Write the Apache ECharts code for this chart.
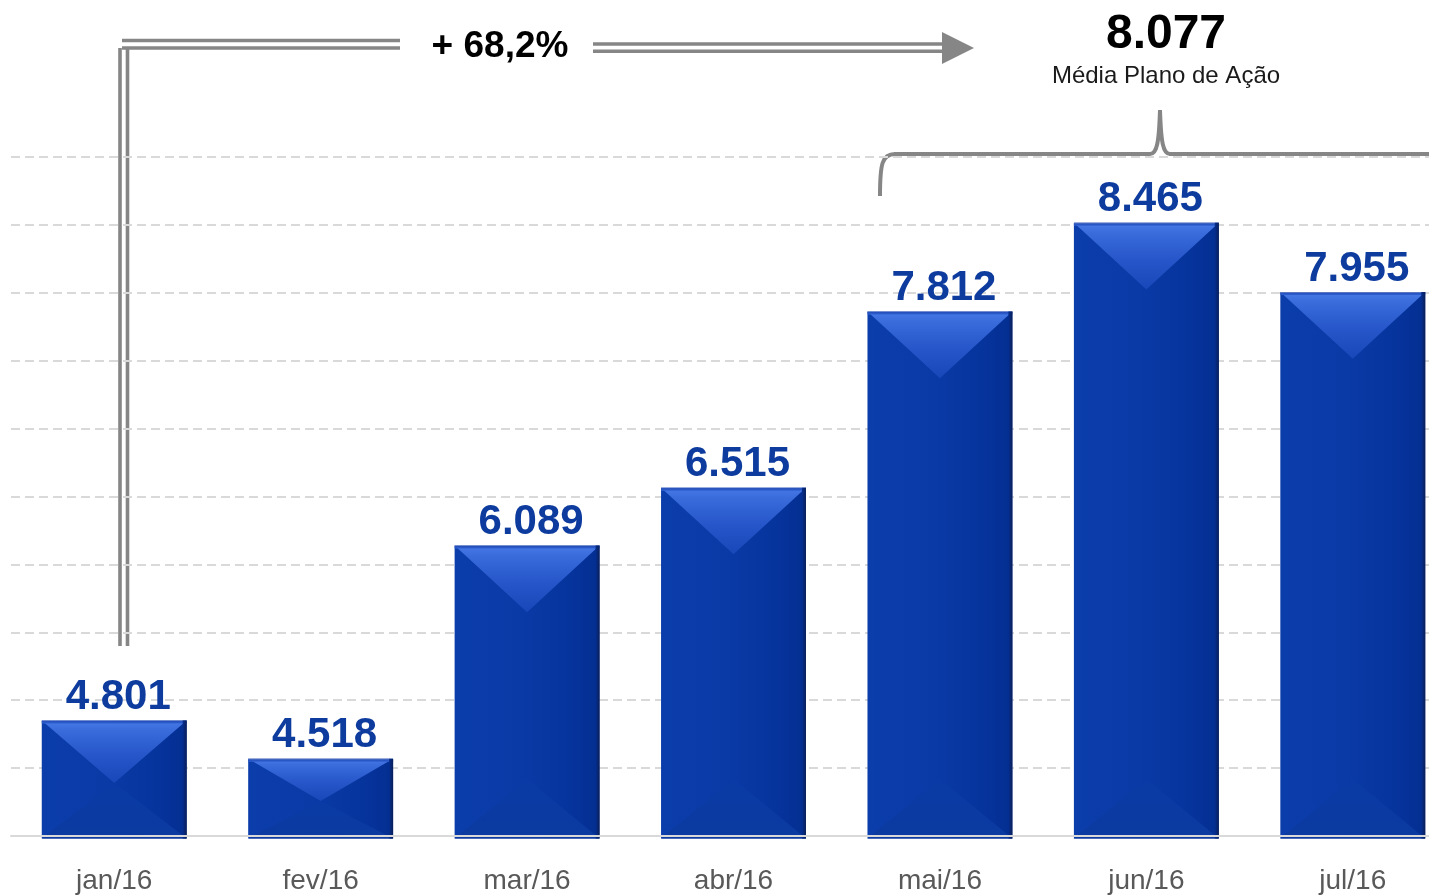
<!DOCTYPE html>
<html>
<head>
<meta charset="utf-8">
<title>Volume mensal</title>
<script src="https://cdn.jsdelivr.net/npm/echarts@6/dist/echarts.min.js"></script>
<style>
  html, body { margin: 0; padding: 0; background: #ffffff; }
  #chart { width: 1429px; height: 896px; }
</style>
</head>
<body>
<div id="chart"></div>
<script>
// Monthly volumes, Jan–Jul 2016
const months = ['jan/16', 'fev/16', 'mar/16', 'abr/16', 'mai/16', 'jun/16', 'jul/16'];
const volumes = [4801, 4518, 6089, 6515, 7812, 8465, 7955];
// Months covered by the action plan (mai, jun, jul)
const planMonths = [4, 5, 6];

// Value axis range (baseline is not zero)
const AXIS_MIN = 3950;
const AXIS_MAX = 8950;

const FONT = '"Liberation Sans", Arial, sans-serif';

// 4801 -> "4.801"
function fmtThousands(n) {
  return String(Math.round(n)).replace(/\B(?=(\d{3})+(?!\d))/g, '.');
}

const planAvg = planMonths.reduce((s, i) => s + volumes[i], 0) / planMonths.length;
const growthPct = (planAvg / volumes[0] - 1) * 100;
const growthText = '+ ' + growthPct.toFixed(1).replace('.', ',') + '%';
const avgText = fmtThousands(planAvg);

const lin = (x2, y2, stops) => ({
  type: 'linear', x: 0, y: 0, x2: x2, y2: y2,
  colorStops: stops.map(s => ({ offset: s[0], color: s[1] }))
});

const bodyFill = lin(1, 0, [[0, '#0b3dab'], [0.45, '#0a3aa6'], [0.8, '#06349d'], [1, '#042e90']]);
const rightEdgeFill = lin(1, 0, [[0, '#042e90'], [1, '#0b1f58']]);
const topFill = lin(0, 1, [[0, '#4879e6'], [0.15, '#3a6cdc'], [0.55, '#2656c9'], [1, '#1747b8']]);
const topEdgeFill = lin(0, 1, [[0, '#8393c2'], [0.3, '#2550bc'], [1, '#2f61d2']]);
const bottomFill = lin(0, 1, [[0, '#0a3aa5'], [1, '#0b3aa0']]);

// Bevelled bar with its value label
function renderBar(params, api) {
  const idx = api.value(0);
  const val = api.value(1);
  const top = api.coord([idx, val]);
  const base = api.coord([idx, AXIS_MIN]);
  const band = api.size([1, 0])[0];
  const w = band * 0.702;
  const cx = top[0];
  const x0 = cx - w / 2;
  const x1 = cx + w / 2;
  const y0 = top[1];
  const y1 = base[1] + 2.5;
  const h = y1 - y0;
  const dTop = Math.min(w * 0.46, h * 0.53);
  const dBot = Math.min(w * 0.41, h * 0.47);
  return {
    type: 'group',
    children: [
      { type: 'rect', shape: { x: x0, y: y0, width: w, height: h }, style: { fill: bodyFill } },
      { type: 'polygon', shape: { points: [[x0, y1], [x1, y1], [cx, y1 - dBot]] }, style: { fill: bottomFill } },
      { type: 'polygon', shape: { points: [[x0, y0], [x1, y0], [cx, y0 + dTop]] }, style: { fill: topFill } },
      { type: 'rect', shape: { x: x0, y: y0, width: w, height: 3 }, style: { fill: topEdgeFill } },
      { type: 'rect', shape: { x: x1 - 4, y: y0, width: 4, height: h }, style: { fill: rightEdgeFill } },
      {
        type: 'text',
        style: {
          text: fmtThousands(val),
          x: cx + 4,
          y: y0 - 2,
          textAlign: 'center',
          textVerticalAlign: 'bottom',
          align: 'center',
          verticalAlign: 'bottom',
          font: 'bold 42px ' + FONT,
          fill: '#0d3b9e'
        }
      }
    ]
  };
}

const GREY = '#868686';
const dbl = { stroke: GREY, lineWidth: 3.6 };

const chart = echarts.init(document.getElementById('chart'), null, { renderer: 'canvas' });
chart.setOption({
  animation: false,
  backgroundColor: '#ffffff',
  grid: { left: 11, top: 157, width: 1445, height: 679, containLabel: false, outerBoundsMode: 'none' },
  xAxis: {
    type: 'category',
    data: months,
    z: 10,
    axisTick: { show: false },
    axisLine: { lineStyle: { color: '#d9d9d9', width: 2 } },
    axisLabel: { fontSize: 28, color: '#595959', margin: 31, fontFamily: FONT }
  },
  yAxis: [
    {
      type: 'value', min: AXIS_MIN, max: AXIS_MAX, show: false
    },
    {
      type: 'value', min: 0, max: 10, interval: 1, position: 'left',
      axisLine: { show: false }, axisTick: { show: false }, axisLabel: { show: false },
      splitLine: { show: true, lineStyle: { color: '#d9d9d9', width: 2, type: [9, 5] } }
    }
  ],
  series: [
    {
      type: 'custom',
      yAxisIndex: 0,
      clip: false,
      renderItem: renderBar,
      encode: { x: 0, y: 1 },
      data: volumes.map((v, i) => [i, v])
    }
  ],
  graphic: [
    // Growth bracket: double line from January up and across
    { type: 'line', shape: { x1: 122, y1: 40.5, x2: 400, y2: 40.5 }, style: dbl },
    { type: 'line', shape: { x1: 122, y1: 48, x2: 400, y2: 48 }, style: dbl },
    { type: 'line', shape: { x1: 120, y1: 48, x2: 120, y2: 646 }, style: dbl },
    { type: 'line', shape: { x1: 127.5, y1: 48, x2: 127.5, y2: 646 }, style: dbl },
    { type: 'line', shape: { x1: 593, y1: 44, x2: 944, y2: 44 }, style: dbl },
    { type: 'line', shape: { x1: 593, y1: 51.3, x2: 944, y2: 51.3 }, style: dbl },
    { type: 'polygon', shape: { points: [[942, 32], [974, 48], [942, 64]] }, style: { fill: GREY } },
    {
      type: 'text',
      style: {
        text: growthText, x: 500, y: 47,
        textAlign: 'center', textVerticalAlign: 'middle', align: 'center', verticalAlign: 'middle',
        font: 'bold 37px ' + FONT, fill: '#000000'
      }
    },
    // Curly brace over the action-plan months
    { type: 'bezierCurve', shape: { x1: 880, y1: 196, cpx1: 880, cpy1: 164, cpx2: 882, cpy2: 154, x2: 895, y2: 154 }, style: { stroke: GREY, lineWidth: 4, fill: null } },
    { type: 'line', shape: { x1: 894, y1: 154, x2: 1150, y2: 154 }, style: { stroke: GREY, lineWidth: 4 } },
    { type: 'bezierCurve', shape: { x1: 1150, y1: 154, cpx1: 1157, cpy1: 154, cpx2: 1159, cpy2: 142, x2: 1160, y2: 110 }, style: { stroke: GREY, lineWidth: 4, fill: null } },
    { type: 'bezierCurve', shape: { x1: 1160, y1: 110, cpx1: 1161, cpy1: 142, cpx2: 1163, cpy2: 154, x2: 1170, y2: 154 }, style: { stroke: GREY, lineWidth: 4, fill: null } },
    { type: 'line', shape: { x1: 1169, y1: 154, x2: 1440, y2: 154 }, style: { stroke: GREY, lineWidth: 4 } },
    {
      type: 'text',
      style: {
        text: avgText, x: 1166, y: 35,
        textAlign: 'center', textVerticalAlign: 'middle', align: 'center', verticalAlign: 'middle',
        font: 'bold 48px ' + FONT, fill: '#000000'
      }
    },
    {
      type: 'text',
      style: {
        text: 'Média Plano de Ação', x: 1166, y: 76,
        textAlign: 'center', textVerticalAlign: 'middle', align: 'center', verticalAlign: 'middle',
        font: '24px ' + FONT, fill: '#1a1a1a'
      }
    }
  ]
});
</script>
</body>
</html>
